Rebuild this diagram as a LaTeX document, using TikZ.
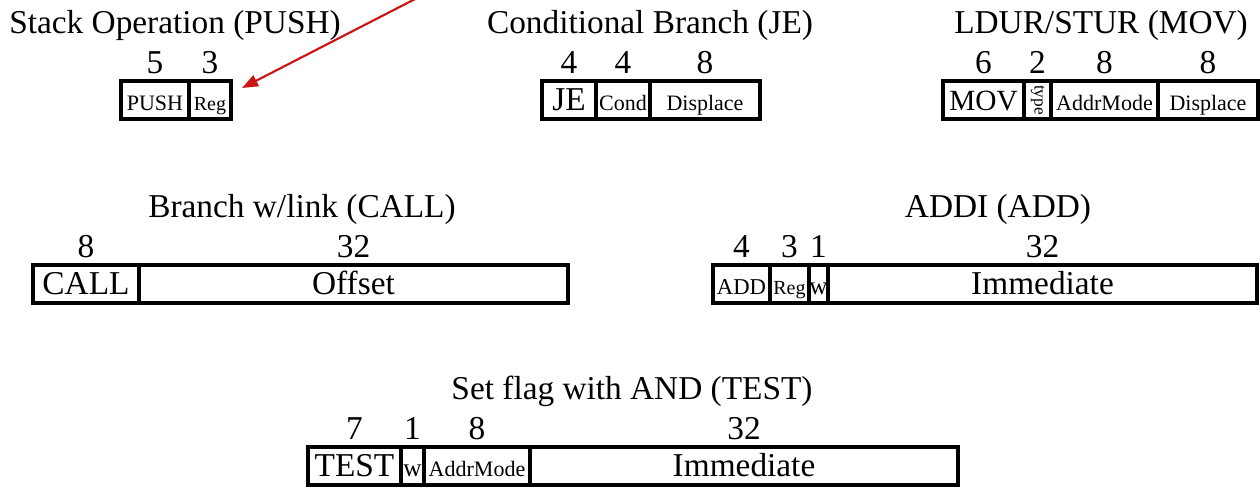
\documentclass[tikz,border=0pt]{standalone}
\usepackage{fontspec}
\setmainfont{Liberation Serif}
\usetikzlibrary{arrows.meta}
\begin{document}
\begin{tikzpicture}[x=0.75pt,y=-0.75pt,
  fld/.style={draw, line width=2.9pt, minimum height=28.5pt, inner sep=0pt, outer sep=0pt, text height=16pt, text depth=1pt},
  bits/.style={anchor=base, font=\fontsize{25}{25}\selectfont},
  ttl/.style={anchor=base, font=\fontsize{25}{25}\selectfont},
  pointer/.style={draw={rgb,255:red,204;green,20;blue,20}, line width=1.6pt, -{Triangle[length=12pt,width=9pt]}}]
\useasboundingbox (0,0) rectangle (1260,489);
\foreach \nm/\ox/\oy/\tit in {push/175/100/{Stack Operation (PUSH)}, je/650/100/{Conditional Branch (JE)}, mov/1101/100/{LDUR/STUR (MOV)}, call/302/284/{Branch w/link (CALL)}, addi/998/284/{ADDI (ADD)}, test/632/466/{Set flag with AND (TEST)}}
  \node[ttl] (\nm-title) at (\ox,\oy-67) {\tit};
\foreach \nm/\a/\b/\oy/\txt/\sz/\n in {
  push1/121/189/100/PUSH/16.5/5, push2/189/231/100/Reg/15/3,
  je1/542/596/100/JE/25/4, je2/596/650/100/Cond/16.5/4, je3/650/760/100/Displace/16.5/8,
  mov1/943/1024/100/MOV/22/6, mov2/1024/1051/100/{}/14/2, mov3/1051/1158/100/AddrMode/16.5/8, mov4/1158/1258/100/Displace/16.5/8,
  call1/33/139/284/CALL/25/8, call2/139/568/284/Offset/25/32,
  addi1/713/770/284/ADD/17/4, addi2/770/809/284/Reg/15/3, addi3/809/828/284/w/19/1, addi4/828/1257/284/Immediate/25/32,
  test1/308/401/466/TEST/25/7, test2/401/424/466/w/19/1, test3/424/530/466/AddrMode/16.5/8, test4/530/958/466/Immediate/25/32}{
  \node[fld, minimum width={(\b-\a)*0.75pt}, font=\fontsize{\sz}{\sz}\selectfont] (\nm) at ({(\a+\b)/2},\oy) {\txt};
  \node[bits] (\nm-bits) at ([yshift=6pt]\nm.north) {\n};}
\node[rotate=-90, inner sep=0pt, font=\fontsize{13}{13}\selectfont] (mov2-type) at (mov2) {type};
\coordinate (ptr) at (419,-3);
\draw[pointer] (ptr) -- ([shift={(11,-12)}]push2.east);
\end{tikzpicture}
\end{document}
